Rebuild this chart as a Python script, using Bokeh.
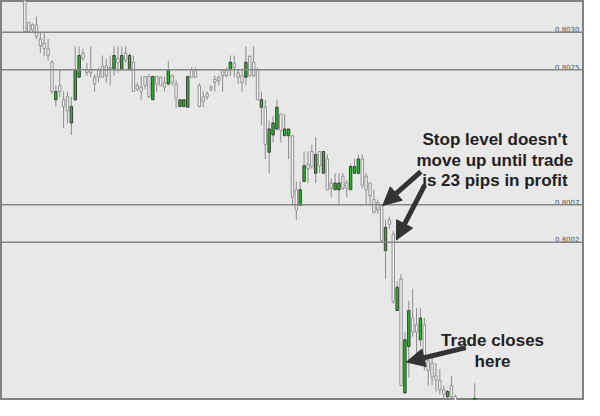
from bokeh.plotting import figure
from bokeh.models import ColumnDataSource, Range1d, Span, Arrow, NormalHead
from bokeh.core.properties import value
from bokeh.embed import file_html
from bokeh.resources import INLINE

# ---------------- data (prices) ----------------
opens = [
    0.80349, 0.80313, 0.80310, 0.80310, 0.80291, 0.80285, 0.80278, 0.80260, 0.80210, 0.80229,
    0.80210, 0.80214, 0.80179, 0.80210, 0.80240, 0.80272, 0.80250, 0.80250, 0.80240, 0.80249,
    0.80255, 0.80255, 0.80253, 0.80250, 0.80265, 0.80250, 0.80272, 0.80250, 0.80260, 0.80229,
    0.80227, 0.80241, 0.80241, 0.80210, 0.80241, 0.80240, 0.80233, 0.80231, 0.80242, 0.80231,
    0.80201, 0.80201, 0.80200, 0.80250, 0.80250, 0.80229, 0.80214, 0.80218, 0.80227, 0.80237,
    0.80240, 0.80250, 0.80250, 0.80250, 0.80259, 0.80246, 0.80242, 0.80240, 0.80268, 0.80260,
    0.80250, 0.80200, 0.80200, 0.80140, 0.80163, 0.80171, 0.80191, 0.80162, 0.80162, 0.80162,
    0.80090, 0.80069, 0.80101, 0.80124, 0.80141, 0.80112, 0.80141, 0.80112, 0.80131, 0.80099,
    0.80090, 0.80090, 0.80108, 0.80099, 0.80090, 0.80112, 0.80112, 0.80131, 0.80108, 0.80099,
    0.80077, 0.80073, 0.80069, 0.80009, 0.80050, 0.80031, 0.79929, 0.79971, 0.79819, 0.79881,
    0.79919, 0.79910, 0.79890, 0.79910, 0.79862, 0.79859, 0.79842, 0.79836, 0.79823, 0.79814,
    0.79829, 0.79814, 0.79797, 0.79785, 0.79795, 0.79790, 0.79805,
]
highs = [
    0.80353, 0.80314, 0.80312, 0.80321, 0.80300, 0.80300, 0.80291, 0.80263, 0.80229, 0.80250,
    0.80221, 0.80221, 0.80214, 0.80281, 0.80281, 0.80278, 0.80259, 0.80281, 0.80244, 0.80253,
    0.80269, 0.80265, 0.80269, 0.80281, 0.80281, 0.80281, 0.80281, 0.80272, 0.80269, 0.80233,
    0.80242, 0.80241, 0.80244, 0.80241, 0.80241, 0.80241, 0.80241, 0.80262, 0.80244, 0.80237,
    0.80210, 0.80210, 0.80241, 0.80253, 0.80253, 0.80232, 0.80221, 0.80221, 0.80229, 0.80242,
    0.80242, 0.80250, 0.80253, 0.80269, 0.80269, 0.80250, 0.80250, 0.80281, 0.80269, 0.80281,
    0.80253, 0.80221, 0.80210, 0.80182, 0.80188, 0.80210, 0.80191, 0.80191, 0.80171, 0.80163,
    0.80101, 0.80101, 0.80141, 0.80141, 0.80150, 0.80160, 0.80141, 0.80141, 0.80137, 0.80105,
    0.80112, 0.80112, 0.80112, 0.80103, 0.80124, 0.80131, 0.80137, 0.80137, 0.80112, 0.80099,
    0.80090, 0.80077, 0.80071, 0.80050, 0.80054, 0.80035, 0.79968, 0.79977, 0.79900, 0.79942,
    0.79958, 0.79932, 0.79932, 0.79919, 0.79868, 0.79868, 0.79859, 0.79851, 0.79829, 0.79823,
    0.79842, 0.79817, 0.79808, 0.79800, 0.79806, 0.79810, 0.79832,
]
lows = [
    0.80300, 0.80299, 0.80300, 0.80291, 0.80272, 0.80268, 0.80262, 0.80218, 0.80201, 0.80214,
    0.80172, 0.80178, 0.80163, 0.80208, 0.80240, 0.80262, 0.80242, 0.80240, 0.80221, 0.80233,
    0.80240, 0.80233, 0.80229, 0.80242, 0.80246, 0.80250, 0.80259, 0.80250, 0.80221, 0.80221,
    0.80210, 0.80224, 0.80212, 0.80210, 0.80221, 0.80229, 0.80221, 0.80229, 0.80229, 0.80199,
    0.80200, 0.80200, 0.80200, 0.80240, 0.80240, 0.80200, 0.80200, 0.80210, 0.80221, 0.80221,
    0.80229, 0.80221, 0.80240, 0.80242, 0.80240, 0.80231, 0.80221, 0.80229, 0.80240, 0.80240,
    0.80210, 0.80176, 0.80131, 0.80112, 0.80153, 0.80169, 0.80153, 0.80162, 0.80131, 0.80069,
    0.80050, 0.80069, 0.80101, 0.80099, 0.80118, 0.80099, 0.80112, 0.80112, 0.80090, 0.80080,
    0.80090, 0.80071, 0.80090, 0.80080, 0.80090, 0.80112, 0.80112, 0.80092, 0.80071, 0.80069,
    0.80058, 0.80058, 0.80019, 0.79971, 0.80038, 0.79938, 0.79929, 0.79829, 0.79819, 0.79840,
    0.79894, 0.79865, 0.79881, 0.79849, 0.79829, 0.79829, 0.79821, 0.79817, 0.79810, 0.79810,
    0.79810, 0.79791, 0.79778, 0.79775, 0.79780, 0.79782, 0.79795,
]
closes = [
    0.80301, 0.80301, 0.80303, 0.80294, 0.80282, 0.80278, 0.80269, 0.80221, 0.80221, 0.80221,
    0.80201, 0.80195, 0.80201, 0.80250, 0.80269, 0.80265, 0.80246, 0.80246, 0.80231, 0.80240,
    0.80240, 0.80242, 0.80251, 0.80269, 0.80259, 0.80269, 0.80263, 0.80269, 0.80221, 0.80224,
    0.80221, 0.80229, 0.80214, 0.80241, 0.80231, 0.80229, 0.80227, 0.80250, 0.80233, 0.80212,
    0.80210, 0.80210, 0.80241, 0.80240, 0.80240, 0.80201, 0.80208, 0.80214, 0.80224, 0.80233,
    0.80235, 0.80242, 0.80242, 0.80260, 0.80253, 0.80240, 0.80233, 0.80260, 0.80242, 0.80242,
    0.80210, 0.80210, 0.80150, 0.80171, 0.80179, 0.80200, 0.80169, 0.80171, 0.80171, 0.80080,
    0.80063, 0.80090, 0.80122, 0.80118, 0.80121, 0.80137, 0.80122, 0.80141, 0.80090, 0.80092,
    0.80099, 0.80099, 0.80092, 0.80092, 0.80121, 0.80121, 0.80131, 0.80096, 0.80090, 0.80082,
    0.80060, 0.80063, 0.80022, 0.80040, 0.80044, 0.79941, 0.79960, 0.79829, 0.79890, 0.79929,
    0.79900, 0.79900, 0.79919, 0.79862, 0.79849, 0.79840, 0.79836, 0.79823, 0.79817, 0.79821,
    0.79814, 0.79797, 0.79785, 0.79795, 0.79790, 0.79805, 0.79812,
]

levels = [0.8030, 0.8025, 0.8007, 0.8002]
level_labels = ["0.8030", "0.8025", "0.8007", "0.8002"]

note_top = ["Stop level doesn't", "move up until trade", "is 23 pips in profit"]
note_bottom = ["Trade closes", "here"]

# ---------------- build ----------------
n = min(len(opens), len(highs), len(lows), len(closes))
idx = list(range(n))
o, h, l, c = opens[:n], highs[:n], lows[:n], closes[:n]

bull = dict(x=[], top=[], bottom=[])
bear = dict(x=[], top=[], bottom=[])
for i in idx:
    d = bull if c[i] > o[i] else bear
    d["x"].append(i)
    d["top"].append(max(o[i], c[i]))
    d["bottom"].append(min(o[i], c[i]))

p = figure(width=584, height=400, output_backend="svg", toolbar_location=None,
           x_range=Range1d(-6.27, 144.3), y_range=Range1d(0.79809, 0.803423),
           x_axis_location=None, y_axis_location=None, min_border=0)
p.background_fill_color = "#e8e8e8"
p.border_fill_color = "#e8e8e8"
p.outline_line_color = "#808080"
p.outline_line_width = 3
p.grid.visible = False

for lv in levels:
    p.add_layout(Span(location=lv, dimension="width", line_color="#858585", line_width=1.5))

p.segment(x0=idx, y0=h, x1=idx, y1=l, line_color="#8c8c8c", line_width=1)
p.vbar(x="x", top="top", bottom="bottom", width=0.62, source=ColumnDataSource(bear),
       fill_color="#f4f4f4", line_color="#929292", line_width=1)
p.vbar(x="x", top="top", bottom="bottom", width=0.62, source=ColumnDataSource(bull),
       fill_color="#1ec21e", line_color="#3c3c3c", line_width=1)

p.text(x=[143.0] * len(levels), y=levels, text=level_labels,
       text_font=value("DejaVu Sans"), text_font_size="7px", text_color="#555555",
       text_align="right", text_baseline="bottom")

p.text(x=[121.2] * 3, y=[0.801564, 0.801295, 0.801026], text=note_top,
       text_font=value("Liberation Sans"), text_font_style="bold", text_font_size="17px",
       text_color="#222222", text_align="center", text_baseline="alphabetic")
p.text(x=[120.6] * 2, y=[0.798885, 0.798615], text=note_bottom,
       text_font=value("Liberation Sans"), text_font_style="bold", text_font_size="17px",
       text_color="#222222", text_align="center", text_baseline="alphabetic")

arrow_color = "#333333"
for (xs, ys, xe, ye) in [(102.1, 0.801141, 92.3, 0.80069),
                         (103.1, 0.800962, 95.8, 0.800231),
                         (113.7, 0.798795, 98.4, 0.798603)]:
    p.add_layout(Arrow(end=NormalHead(size=18, fill_color=arrow_color, line_color=arrow_color),
                       x_start=xs, y_start=ys, x_end=xe, y_end=ye,
                       line_color=arrow_color, line_width=5))

open("out.html", "w").write(file_html(p, INLINE))
